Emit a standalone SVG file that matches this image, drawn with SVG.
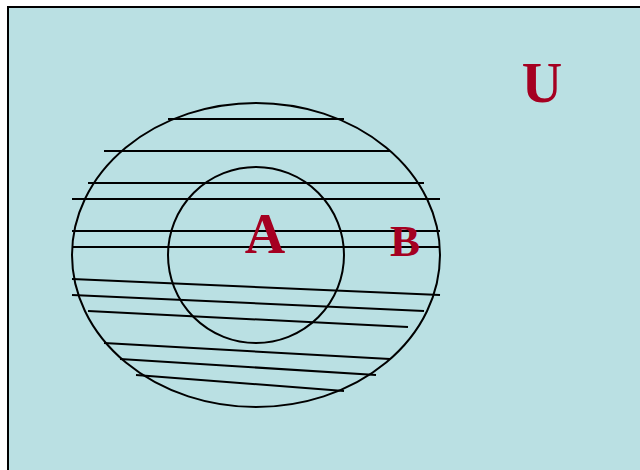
<svg xmlns="http://www.w3.org/2000/svg" width="640" height="470" viewBox="0 0 640 470">
<style>
.ln{stroke:#000;stroke-width:2;fill:none}
.lbl{font-family:"Liberation Serif","DejaVu Serif",serif;font-weight:bold;fill:#A50021;text-anchor:middle}
</style>
<rect id="universe" x="8" y="7" width="640" height="470" fill="#BAE0E3" stroke="#000" stroke-width="2"/>
<g id="connectors">
<line class="ln" x1="168" y1="119" x2="344" y2="119"/>
<line class="ln" x1="104" y1="151" x2="390" y2="151"/>
<line class="ln" x1="88" y1="183" x2="424" y2="183"/>
<line class="ln" x1="72" y1="199" x2="440" y2="199"/>
<line class="ln" x1="72" y1="231" x2="440" y2="231"/>
<line class="ln" x1="72" y1="247" x2="440" y2="247"/>
<line class="ln" x1="72" y1="279" x2="440" y2="295"/>
<line class="ln" x1="72" y1="295" x2="424" y2="311"/>
<line class="ln" x1="88" y1="311" x2="408" y2="327"/>
<line class="ln" x1="104" y1="343" x2="390" y2="359"/>
<line class="ln" x1="120" y1="359" x2="376" y2="375"/>
<line class="ln" x1="136" y1="375" x2="344" y2="391"/>
</g>
<g id="B"><ellipse class="ln" cx="256" cy="255" rx="184" ry="152"/><text class="lbl" x="405" y="256" font-size="45">B</text></g>
<g id="A"><circle class="ln" cx="256" cy="255" r="88"/><text class="lbl" x="265" y="253" font-size="56">A</text></g>
<g id="U"><text class="lbl" x="542" y="102" font-size="56">U</text></g>
</svg>
